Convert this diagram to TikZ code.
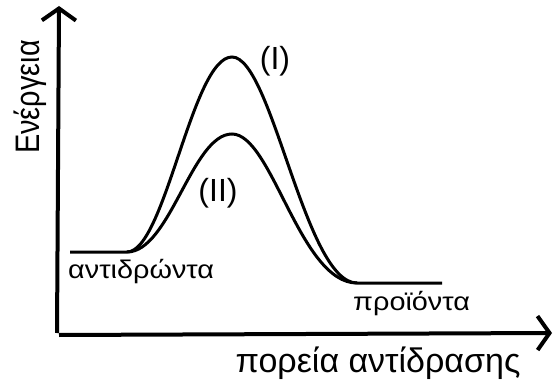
\documentclass[tikz,border=0pt]{standalone}
\usepackage{fontspec}
\setmainfont{Liberation Sans}
\usetikzlibrary{arrows.meta}

\begin{document}
\begin{tikzpicture}[
        x=1pt, y=1pt,
        axis/.style={
            line width=4pt,
            -{Straight Barb[length=12pt,width=34pt,line width=4pt]}
        },
        curve/.style={line width=3pt},
        biglabel/.style={font=\fontsize{34}{34}\selectfont, inner sep=0pt},
        smalllabel/.style={font=\fontsize{25.5}{25.5}\selectfont, inner sep=0pt, xscale=1.13}
    ]

    \useasboundingbox (0,0) rectangle (556,383);

    % axes
    \coordinate (origin) at (59,50);
    \coordinate (ytip) at (59,377);
    \coordinate (xtip) at (552,50);
    \draw[axis] ([xshift=-2pt]origin) -- (ytip);
    \draw[axis] ([yshift=-2pt]origin) -- (xtip);

    \node[biglabel, anchor=base, rotate=90, xscale=0.85] (energy) at (39,286) {Ενέργεια};
    \node[biglabel, anchor=base] (path) at (378,11) {πορεία αντίδρασης};

    % energy profiles
    \coordinate (start) at (70,131);
    \coordinate (rise) at (127,131);
    \coordinate (peakA) at (232,326);
    \coordinate (peakB) at (232,249);
    \coordinate (fall) at (357,100);
    \coordinate (finish) at (442,100);

    \draw[curve] (start) -- (rise)
        .. controls (165,131) and (192,326) .. (peakA)
        .. controls (272,326) and (305,100) .. (fall) -- (finish);
    \draw[curve] (rise)
        .. controls (170,131) and (192,249) .. (peakB)
        .. controls (272,249) and (300,100) .. (fall);

    \node[biglabel, font=\fontsize{32}{32}\selectfont] (one) at (275,322) {(I)};
    \node[biglabel, font=\fontsize{32}{32}\selectfont] (two) at (218,190) {(II)};
    \node[smalllabel, anchor=base west] (react) at (68,105) {αντιδρώντα};
    \node[smalllabel, anchor=base west] (prod) at (353,73) {προϊόντα};

\end{tikzpicture}
\end{document}
